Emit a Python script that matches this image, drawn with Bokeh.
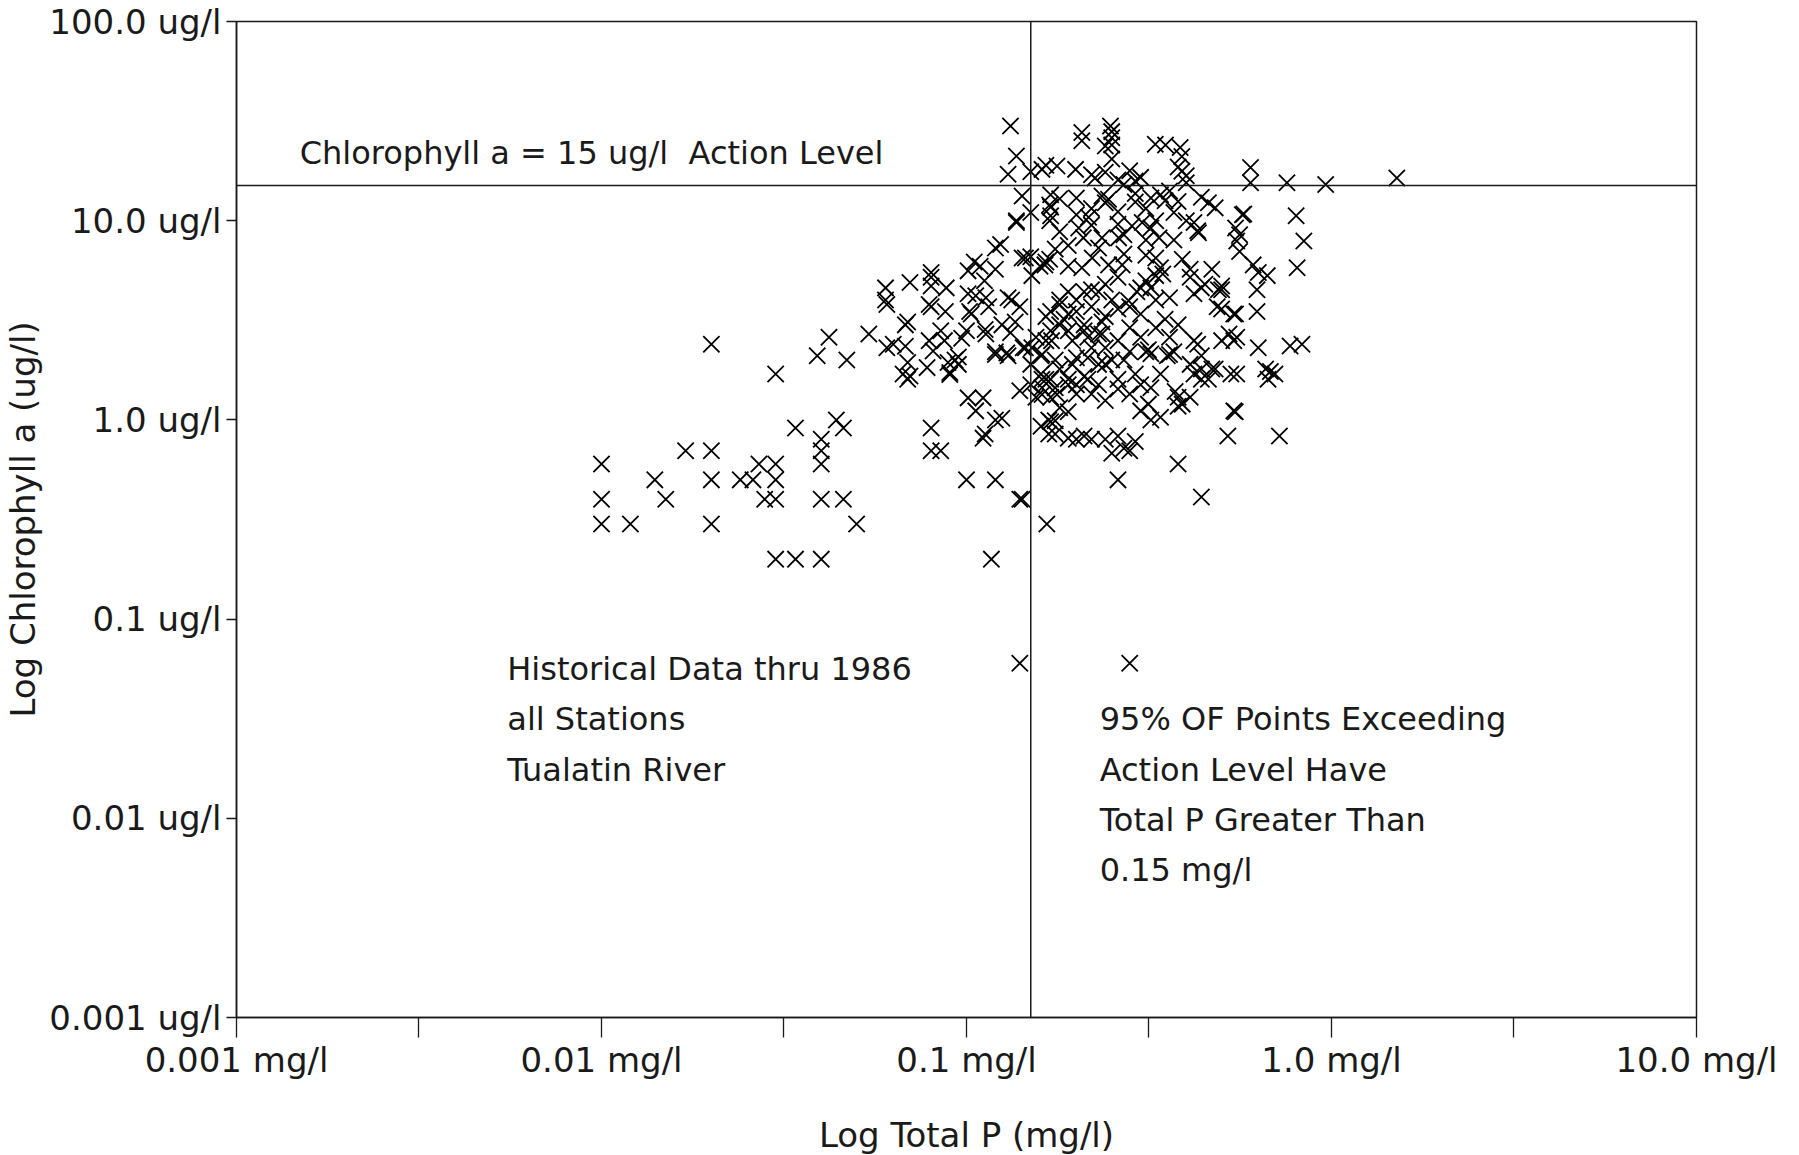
from bokeh.plotting import figure
from bokeh.models import Span, Label, FixedTicker, ColumnDataSource
from bokeh.embed import file_html
from bokeh.resources import INLINE

# ---------------- data: (Total P mg/l, Chlorophyll a ug/l) ----------------
LOW_P = [(0.010, 0.6), (0.010, 0.4), (0.010, 0.3), (0.012, 0.3), (0.014, 0.5), (0.015, 0.4),
         (0.017, 0.7), (0.020, 0.7), (0.020, 0.5), (0.020, 0.3), (0.020, 2.4), (0.024, 0.5),
         (0.026, 0.5), (0.027, 0.6), (0.030, 0.6), (0.028, 0.4), (0.030, 0.4), (0.030, 0.5),
         (0.030, 1.7), (0.030, 0.2), (0.034, 0.2), (0.040, 0.2), (0.034, 0.91), (0.040, 0.8),
         (0.040, 0.7), (0.040, 0.6), (0.040, 0.4), (0.046, 0.4), (0.050, 0.3), (0.044, 1.0),
         (0.046, 0.91), (0.039, 2.1), (0.042, 2.6), (0.047, 2.0), (0.054, 2.7)]

MID_P = [(0.060, 4.6), (0.070, 4.9), (0.080, 5.2), (0.080, 5.5), (0.088, 4.6), (0.080, 4.7),
         (0.060, 4.0), (0.0605, 3.8), (0.080, 3.7), (0.079, 3.8), (0.068, 3.0), (0.069, 3.1),
         (0.0875, 3.5), (0.0605, 2.3), (0.063, 2.4), (0.068, 2.34), (0.069, 1.94), (0.070, 1.66),
         (0.067, 1.7), (0.069, 1.6), (0.078, 1.83), (0.085, 2.8), (0.087, 2.5), (0.079, 2.5),
         (0.097, 2.57), (0.100, 2.8), (0.089, 1.94), (0.093, 2.0), (0.095, 2.07), (0.090, 1.69),
         (0.081, 2.22), (0.090, 1.73), (0.095, 1.9),
         (0.101, 5.6), (0.109, 5.9), (0.120, 5.7), (0.112, 5.0), (0.101, 4.3), (0.113, 4.1),
         (0.103, 3.4), (0.102, 3.5), (0.115, 3.7), (0.106, 4.2), (0.133, 4.0), (0.130, 4.1),
         (0.140, 3.7), (0.136, 3.1), (0.125, 3.0), (0.132, 2.74), (0.145, 2.3), (0.120, 2.2),
         (0.130, 2.1), (0.113, 2.7), (0.1125, 2.84), (0.120, 2.13), (0.129, 2.17), (0.143, 2.3),
         (0.124, 7.6), (0.137, 9.8), (0.142, 13.3), (0.142, 6.5), (0.151, 5.3), (0.159, 5.9),
         (0.169, 6.4), (0.105, 6.2), (0.120, 7.3),
         (0.080, 0.91), (0.080, 0.7), (0.085, 0.7), (0.100, 0.5), (0.120, 0.5), (0.142, 0.4),
         (0.117, 0.2), (0.111, 0.81), (0.101, 1.29), (0.111, 1.29), (0.106, 1.11), (0.120, 1.0),
         (0.125, 1.02), (0.1125, 0.85), (0.140, 0.06), (0.280, 0.06)]

ABOVE_LEVEL = [(0.132, 29.9), (0.137, 21.1), (0.130, 17.1), (0.207, 27.7), (0.207, 25.2),
               (0.248, 29.9), (0.250, 28.0), (0.250, 26.1), (0.240, 23.7), (0.250, 24.0),
               (0.250, 20.4), (0.329, 24.2), (0.351, 24.0), (0.385, 23.3), (0.389, 21.0),
               (0.389, 17.7), (0.161, 18.1), (0.177, 18.8), (0.199, 18.1), (0.150, 17.6),
               (0.165, 19.0), (0.225, 16.4), (0.240, 17.5), (0.260, 16.0), (0.280, 17.8),
               (0.290, 15.8), (0.270, 15.2), (0.220, 17.0), (0.300, 16.5), (0.380, 18.6),
               (0.400, 16.8), (0.400, 15.5), (0.600, 18.5), (0.600, 15.5), (0.755, 15.5),
               (0.964, 15.2), (1.510, 16.4)]

HIGH_P_UPPER = [(0.36, 14.1), (0.34, 13.5), (0.44, 13.1), (0.48, 11.6), (0.46, 12.3), (0.575, 10.8),
                (0.57, 10.7), (0.80, 10.6), (0.84, 7.9), (0.805, 5.8), (0.546, 9.2), (0.56, 8.5),
                (0.55, 7.9), (0.56, 7.0), (0.61, 6.0), (0.667, 5.3), (0.625, 4.5), (0.625, 3.5),
                (0.546, 3.4), (0.486, 3.7), (0.50, 4.5), (0.44, 4.6), (0.47, 5.7), (0.41, 5.7),
                (0.432, 8.7), (0.43, 8.9), (0.63, 5.5),
                (0.137, 10.0), (0.145, 6.5), (0.164, 6.0), (0.175, 7.2), (0.203, 9.2), (0.209, 8.2),
                (0.216, 10.4), (0.235, 8.2), (0.261, 8.2), (0.284, 9.4), (0.303, 9.8), (0.32, 9.2),
                (0.337, 8.2), (0.17, 10.6), (0.17, 11.7), (0.18, 12.9), (0.17, 13.5), (0.245, 12.8),
                (0.29, 12.4), (0.235, 13.3), (0.24, 12.3), (0.26, 11.1), (0.29, 13.7), (0.31, 11.5),
                (0.33, 10.0), (0.35, 12.6), (0.37, 11.0), (0.40, 10.0), (0.20, 10.7), (0.22, 9.5),
                (0.15, 11.0), (0.27, 8.5), (0.169, 12.0), (0.169, 10.0),
                (0.33, 6.5), (0.34, 5.8), (0.345, 5.4), (0.31, 5.0), (0.293, 4.4), (0.278, 3.96),
                (0.267, 6.0), (0.245, 6.0), (0.221, 6.5), (0.207, 5.8), (0.15, 6.6), (0.165, 6.2),
                (0.19, 5.9), (0.24, 4.8), (0.26, 5.2), (0.31, 6.7), (0.33, 5.3), (0.39, 6.4),
                (0.41, 5.2), (0.45, 4.8), (0.50, 4.7), (0.30, 4.6), (0.32, 4.6),
                (0.18, 8.8), (0.19, 7.5), (0.23, 7.3), (0.27, 6.8), (0.31, 8.0), (0.37, 8.0),
                (0.42, 9.8), (0.38, 12.5), (0.26, 9.6), (0.22, 11.5), (0.20, 13.0), (0.32, 13.0)]

HIGH_P_LOWER = [(0.19, 4.4), (0.21, 4.4), (0.23, 4.4), (0.18, 3.8), (0.20, 3.5), (0.22, 3.7),
                (0.185, 3.2), (0.21, 3.0), (0.235, 3.1), (0.17, 2.8), (0.195, 2.5), (0.215, 2.6),
                (0.235, 2.7), (0.16, 2.1), (0.175, 2.0), (0.195, 1.9), (0.215, 2.05), (0.24, 1.9),
                (0.17, 1.6), (0.19, 1.5), (0.215, 1.6), (0.23, 1.5), (0.155, 1.3), (0.17, 1.3),
                (0.18, 1.15), (0.19, 1.1),
                (0.25, 2.0), (0.27, 2.0), (0.31, 2.2), (0.315, 2.25), (0.32, 2.15), (0.36, 2.13),
                (0.37, 2.2), (0.355, 2.1), (0.26, 1.6), (0.29, 1.7), (0.315, 1.2), (0.34, 1.03),
                (0.39, 1.2), (0.38, 1.3), (0.41, 1.3), (0.43, 2.4), (0.41, 1.9), (0.44, 1.8),
                (0.46, 1.6), (0.47, 1.8), (0.524, 2.7), (0.55, 2.6), (0.55, 1.7), (0.63, 2.3),
                (0.66, 1.8), (0.70, 1.7), (0.67, 1.6), (0.68, 1.75), (0.77, 2.35), (0.83, 2.4),
                (0.545, 1.1), (0.52, 0.83), (0.72, 0.83), (0.21, 0.83), (0.24, 0.8), (0.26, 0.83),
                (0.29, 0.78), (0.17, 0.98), (0.175, 0.85),
                (0.166, 0.30), (0.14, 0.40), (0.44, 0.41), (0.38, 0.60), (0.26, 0.50), (0.30, 1.11),
                (0.32, 1.0), (0.38, 1.17), (0.25, 0.68), (0.27, 0.72), (0.28, 0.70), (0.20, 0.80),
                (0.22, 0.80),
                (0.151, 2.3), (0.161, 1.34), (0.175, 0.99), (0.19, 0.81), (0.32, 1.45), (0.26, 1.43),
                (0.373, 1.39), (0.42, 2.5), (0.44, 2.1), (0.42, 1.7), (0.44, 1.6), (0.48, 1.8),
                (0.53, 1.7), (0.54, 1.11), (0.50, 2.5), (0.54, 2.5), (0.50, 3.6), (0.54, 3.4),
                (0.42, 4.3), (0.49, 4.5), (0.20, 2.05), (0.23, 1.9), (0.19, 2.8), (0.21, 2.8),
                (0.23, 2.7), (0.17, 3.5), (0.20, 4.0), (0.22, 4.5), (0.165, 3.3), (0.18, 4.0),
                (0.155, 2.6), (0.165, 2.5), (0.15, 1.9), (0.16, 1.7), (0.165, 1.6), (0.175, 1.45),
                (0.19, 1.6), (0.20, 1.5), (0.21, 1.65), (0.20, 1.35), (0.26, 3.6), (0.28, 3.7),
                (0.30, 3.4), (0.33, 4.0),
                (0.16, 0.93), (0.15, 1.5), (0.14, 1.4), (0.168, 1.0), (0.168, 0.85), (0.161, 1.45),
                (0.161, 1.6), (0.177, 1.34), (0.171, 2.5), (0.161, 2.13),
                (0.18, 3.0), (0.19, 3.4), (0.22, 2.3), (0.24, 2.3), (0.26, 2.5), (0.28, 2.9),
                (0.30, 2.6), (0.33, 2.9), (0.35, 3.2), (0.38, 3.0), (0.36, 2.6), (0.24, 3.3),
                (0.25, 4.0), (0.36, 4.1), (0.18, 1.8), (0.22, 1.35), (0.24, 1.25), (0.28, 1.35),
                (0.30, 1.5), (0.34, 1.7), (0.28, 2.2)]

ACTION_LEVEL_CHL = 15.0     # ug/l
CRITICAL_TP = 0.15          # mg/l

X_TICKS = [0.001, 0.01, 0.1, 1.0, 10.0]
X_MINOR = [0.00316, 0.0316, 0.316, 3.16]
X_LABELS = ["0.001 mg/l", "0.01 mg/l", "0.1 mg/l", "1.0 mg/l", "10.0 mg/l"]
Y_TICKS = [0.001, 0.01, 0.1, 1.0, 10.0, 100.0]
Y_LABELS = ["0.001 ug/l", "0.01 ug/l", "0.1 ug/l", "1.0 ug/l", "10.0 ug/l", "100.0 ug/l"]

# ---------------- figure ----------------
FONT = "DejaVu Sans"
FS_NOTE = "32px"
FS_TICK = "34px"
FS_TITLE = "34px"
INK = "#1a1a1a"

pts = LOW_P + MID_P + ABOVE_LEVEL + HIGH_P_UPPER + HIGH_P_LOWER
src = ColumnDataSource(dict(tp=[a for a, b in pts], chl=[b for a, b in pts]))

p = figure(x_axis_type="log", y_axis_type="log",
           x_range=(0.001, 10.0), y_range=(0.001, 100.0),
           frame_width=1460, frame_height=996,
           min_border_left=235, min_border_top=21, min_border_right=96, min_border_bottom=134,
           output_backend="svg", toolbar_location=None,
           background_fill_color="white", border_fill_color="white")
p.grid.visible = False
p.outline_line_color = INK
p.outline_line_width = 1.5

xa = p.xaxis[0]
xa.ticker = FixedTicker(ticks=X_TICKS, minor_ticks=X_MINOR)
xa.major_label_overrides = {t: s for t, s in zip(X_TICKS, X_LABELS)}
xa.axis_label = "Log Total P (mg/l)"
xa.major_tick_in = 0
xa.major_tick_out = 20
xa.minor_tick_in = 0
xa.minor_tick_out = 20
xa.major_label_standoff = 2
xa.axis_label_standoff = 32

ya = p.yaxis[0]
ya.ticker = FixedTicker(ticks=Y_TICKS, minor_ticks=[])
ya.major_label_overrides = {t: s for t, s in zip(Y_TICKS, Y_LABELS)}
ya.axis_label = "Log Chlorophyll a (ug/l)"
ya.major_tick_in = 0
ya.major_tick_out = 10
ya.major_label_standoff = 5
ya.axis_label_standoff = 3

for ax in (xa, ya):
    ax.axis_line_color = INK
    ax.axis_line_width = 1.5
    ax.major_tick_line_color = INK
    ax.major_tick_line_width = 1.3
    ax.minor_tick_line_color = INK
    ax.minor_tick_line_width = 1.3
    ax.major_label_text_font = FONT
    ax.major_label_text_font_size = FS_TICK
    ax.major_label_text_color = INK
    ax.axis_label_text_font = FONT
    ax.axis_label_text_font_size = FS_TITLE
    ax.axis_label_text_font_style = "normal"
    ax.axis_label_text_color = INK

p.add_layout(Span(location=ACTION_LEVEL_CHL, dimension="width", line_color=INK, line_width=1.5))
p.add_layout(Span(location=CRITICAL_TP, dimension="height", line_color=INK, line_width=1.5))

p.scatter("tp", "chl", source=src, marker="x", size=23, line_color="black", line_width=1.8)

notes = [
    (0.00149, 21.8, "Chlorophyll a = 15 ug/l\u00a0 Action Level"),
    (0.00552, 0.0564, "Historical Data thru 1986"),
    (0.00552, 0.0315, "all Stations"),
    (0.00552, 0.01754, "Tualatin River"),
    (0.2317, 0.0315, "95% OF Points Exceeding"),
    (0.2317, 0.01754, "Action Level Have"),
    (0.2317, 0.0098, "Total P Greater Than"),
    (0.2317, 0.00553, "0.15 mg/l"),
]
for x, y, t in notes:
    p.add_layout(Label(x=x, y=y, text=t, text_font=FONT, text_font_size=FS_NOTE,
                       text_color=INK, text_baseline="middle", text_align="left"))

open("out.html", "w").write(file_html(p, INLINE))
